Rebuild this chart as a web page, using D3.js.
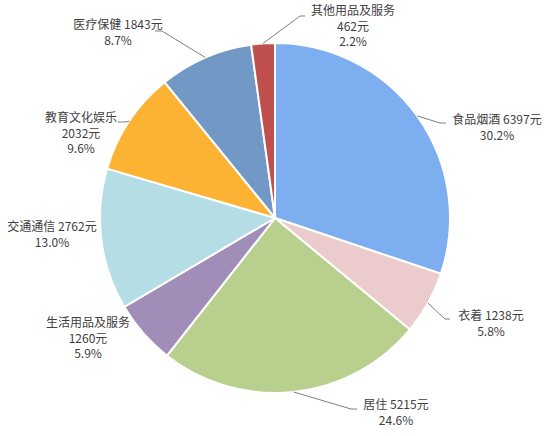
<!DOCTYPE html>
<html>
<head>
<meta charset="utf-8">
<script src="https://cdn.jsdelivr.net/npm/d3@7"></script>
<style>
  html, body { margin: 0; padding: 0; background: #fff; }
  svg text { font-family: "Noto Sans CJK SC", "Noto Sans", sans-serif; font-size: 12px; fill: #404040; }
</style>
</head>
<body>
<svg id="chart" width="550" height="436"></svg>
<script>
// === Data ===
const categories = ["食品烟酒", "衣着", "居住", "生活用品及服务", "交通通信", "教育文化娱乐", "医疗保健", "其他用品及服务"];
const values = [6397, 1238, 5215, 1260, 2762, 2032, 1843, 462];
const percents = ["30.2%", "5.8%", "24.6%", "5.9%", "13.0%", "9.6%", "8.7%", "2.2%"];
const colors = ["#7DAEF0", "#ECCBCD", "#B8CF8E", "#A18EB8", "#B4DDE6", "#FCB233", "#7299C5", "#C0504D"];

// label layout: text centre, first line y, whether name sits on its own line, leader elbow + end
const labelLayout = [
    { x: 497, y: 120, wrap: false, leader: [[440, 123], [446, 123]] },
    { x: 491, y: 316, wrap: false, leader: [[445, 319], [450, 319]] },
    { x: 396, y: 405, wrap: false, leader: [[351, 409], [357, 409]] },
    { x: 88,  y: 323, wrap: true,  leader: null },
    { x: 52,  y: 227, wrap: false, leader: null },
    { x: 81,  y: 118, wrap: true,  leader: [[125, 122], [118, 122]] },
    { x: 118, y: 25,  wrap: false, leader: [[162, 31], [155, 31]] },
    { x: 353, y: 11,  wrap: true,  leader: [[300, 16], [305, 16]] }
];

const data = categories.map((c, i) => ({ name: c, value: values[i], pct: percents[i], color: colors[i], layout: labelLayout[i] }));

const svg = d3.select("#chart");
const cx = 275, cy = 218, radius = 175;
const g = svg.append("g").attr("transform", `translate(${cx},${cy})`);

const pie = d3.pie().sort(null).value(d => d.value);
const arc = d3.arc().innerRadius(0).outerRadius(radius);
const edgeArc = d3.arc().innerRadius(radius).outerRadius(radius);
const arcs = pie(data);

// === Slices ===
g.selectAll("path.slice")
    .data(arcs).enter().append("path")
    .attr("class", "slice")
    .attr("d", arc)
    .attr("fill", d => d.data.color)
    .attr("stroke", "#fff")
    .attr("stroke-width", 2)
    .attr("stroke-linejoin", "round");

// === Leader lines ===
svg.selectAll("polyline.leader")
    .data(arcs.filter(d => d.data.layout.leader)).enter().append("polyline")
    .attr("class", "leader")
    .attr("points", d => {
        const [ex, ey] = edgeArc.centroid(d);
        const pts = [[cx + ex, cy + ey]].concat(d.data.layout.leader);
        return pts.map(p => p.join(",")).join(" ");
    })
    .attr("fill", "none")
    .attr("stroke", "#7f7f7f")
    .attr("stroke-width", 1);

// === Labels ===
const labels = svg.selectAll("text.label")
    .data(arcs).enter().append("text")
    .attr("class", "label")
    .attr("text-anchor", "middle")
    .attr("x", d => d.data.layout.x)
    .attr("y", d => d.data.layout.y);

labels.each(function (d) {
    const L = d.data.layout;
    const lines = L.wrap
        ? [d.data.name, d.data.value + "元", d.data.pct]
        : [d.data.name + " " + d.data.value + "元", d.data.pct];
    d3.select(this).selectAll("tspan")
        .data(lines).enter().append("tspan")
        .attr("x", L.x)
        .attr("dy", (t, i) => i === 0 ? "0.35em" : 15.5)
        .text(t => t);
});
</script>
</body>
</html>
